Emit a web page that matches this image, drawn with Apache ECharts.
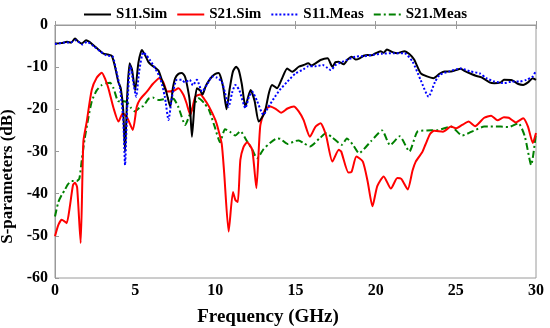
<!DOCTYPE html>
<html><head><meta charset="utf-8">
<script src="https://cdn.jsdelivr.net/npm/echarts/dist/echarts.min.js"></script>
<style>html,body{margin:0;padding:0;background:#fff}#c{width:550px;height:328px}</style>
</head><body><div id="c"></div><script>
const seriesNames = ['S11.Sim', 'S21.Sim', 'S11.Meas', 'S21.Meas'];
const xTicks = [0, 5, 10, 15, 20, 25, 30];
const yTicks = [-60, -50, -40, -30, -20, -10, 0];

const s11SimFreq = [0,0.4,0.75,1.0,1.25,1.45,1.67,1.94,2.15,2.4,2.7,3.02,3.3,3.54,3.75,3.95,4.1,4.25,4.37,4.5,4.65,4.8,5.0,5.2,5.42,5.6,5.83,6.05,6.25,6.45,6.7,6.95,7.19,7.35,7.5,7.7,7.92,8.1,8.25,8.4,8.54,8.7,8.85,9.05,9.2,9.4,9.6,9.8,10.0,10.2,10.35,10.5,10.7,10.9,11.1,11.3,11.46,11.65,11.875,12.05,12.2,12.45,12.7,12.9,13.1,13.35,13.54,13.85,14.17,14.48,14.8,15.2,15.5,15.8,16.0,16.25,16.56,17.0,17.3,17.5,17.7,18.0,18.25,18.5,18.75,19.0,19.25,19.5,19.75,20.0,20.3,20.5,20.7,21.1,21.35,21.8,22.1,22.4,22.8,23.2,23.6,24.0,24.3,24.7,25.0,25.3,25.6,25.9,26.3,26.6,27.1,27.4,27.8,28.0,28.5,28.9,29.2,29.5,29.8,30];
const s11SimDb = [-4.4,-4.3,-4.0,-4.2,-3.2,-3.9,-4.4,-3.6,-4.0,-4.8,-5.8,-6.8,-7.0,-7.3,-10,-13.5,-15,-20,-30,-17,-9.1,-10.5,-15.5,-9,-5.9,-7,-8.8,-9.6,-10.1,-10.8,-13.4,-16,-19.4,-15,-12.6,-11.6,-11.4,-12.2,-14.5,-18,-26.5,-19,-15,-15.5,-16.5,-14.5,-13.2,-12.2,-11.6,-11.4,-12.5,-15,-20,-15,-11,-9.9,-10.7,-14,-19.4,-17,-15.4,-18,-22.9,-22,-20.5,-16,-14.2,-15,-12.6,-10.3,-11.1,-9.9,-9.5,-9.1,-9.6,-9.1,-8.3,-7.9,-9.9,-8.8,-8.7,-9.3,-8.2,-7.5,-8.2,-7.9,-7.3,-7.1,-7.2,-6.7,-6.2,-6.6,-5.8,-6.5,-6.7,-6.2,-6.9,-8.2,-11.4,-12.2,-12.6,-11.5,-11,-11,-10.7,-10.4,-11,-11.5,-12.1,-12.4,-13.6,-13.8,-13.6,-13,-13.1,-14,-14.2,-13.6,-12.6,-13];

const s21SimFreq = [0,0.21,0.42,0.6,0.73,0.94,1.12,1.25,1.38,1.6,1.77,1.98,2.29,2.6,2.92,3.15,3.33,3.65,3.96,4.23,4.52,4.85,5.1,5.31,5.73,6.1,6.5,6.75,7.0,7.4,7.7,8.0,8.2,8.44,8.75,9.06,9.3,9.6,10.0,10.2,10.4,10.55,10.83,11.1,11.25,11.4,11.56,11.75,11.98,12.3,12.56,12.8,13.1,13.44,13.8,14.1,14.5,14.9,15.2,15.5,15.9,16.25,16.56,16.9,17.3,17.7,17.85,18.3,18.5,18.8,19.2,19.5,19.8,20.1,20.5,20.95,21.35,21.6,22.0,22.3,22.5,22.9,23.1,23.4,23.65,24.2,24.7,25.0,25.4,25.8,26.2,26.77,27.2,27.6,28.0,28.3,28.75,29.2,29.5,29.8,30];
const s21SimDb = [-50.1,-47.4,-46.2,-46.6,-47,-42.7,-38,-37.4,-38.5,-51.7,-27.6,-22.9,-15.4,-12.5,-11.3,-13,-15,-19.7,-22.9,-20.9,-22.1,-24.9,-19.4,-17.6,-15.8,-14,-12.6,-13.5,-15.8,-15.6,-15,-16.5,-18.5,-21.3,-17,-16.5,-17.5,-19.3,-22.5,-25,-28.2,-35,-49,-39.6,-41.5,-42,-32,-29,-27.8,-29.6,-38.7,-24,-20.1,-19.3,-20,-20.8,-19.8,-19.3,-20.5,-22.5,-26.5,-24.1,-23.3,-26.1,-32.4,-29.6,-30,-35,-34.8,-31.2,-32.4,-37.1,-43,-38.2,-35.9,-38.8,-36.3,-36.5,-39,-34.5,-32.4,-30.2,-28.4,-25.8,-25.1,-25.3,-24.1,-24.5,-23.7,-22.9,-24,-22,-21.5,-22.6,-21.9,-22,-23.1,-22.1,-24.1,-28,-25.6];

const s11MeasFreq = [0,0.5,1.0,1.3,1.7,2.0,2.4,2.8,3.2,3.6,3.8,4.05,4.25,4.37,4.5,4.7,4.9,5.06,5.25,5.5,5.7,5.9,6.25,6.56,6.85,7.08,7.3,7.6,7.9,8.1,8.4,8.6,8.85,9.17,9.5,9.8,10.1,10.4,10.6,10.83,11.05,11.25,11.5,11.875,12.1,12.3,12.6,13.0,13.3,13.65,14.0,14.5,15.0,15.5,15.8,16.2,16.7,17.0,17.2,17.5,17.7,18.2,18.75,19.3,19.8,20.4,21.1,21.8,22.3,22.8,23.3,23.7,24.0,24.6,25.3,25.9,26.5,26.9,27.4,28.0,28.5,29.0,29.4,29.8,30];
const s11MeasDb = [-4.5,-4.2,-4.1,-3.6,-4.6,-4.0,-5.0,-6.2,-7.2,-7.5,-10.5,-15,-22,-33.2,-20,-9.6,-14,-17,-11,-6.5,-7.2,-8.2,-10.3,-12.6,-17,-22.5,-17,-13,-13,-13.6,-13,-14.3,-13,-15.8,-14,-12.2,-12.5,-13.4,-16,-19.4,-16,-14.2,-15.5,-19.7,-17,-15.8,-18,-21.3,-19.5,-17.4,-15.5,-13.4,-11.5,-10.5,-9.8,-9.8,-9.5,-10.2,-10.7,-9.5,-9.1,-8.3,-7.5,-7.4,-7.1,-6.8,-6.7,-6.7,-8.7,-13,-17,-13.5,-11.8,-11,-10.3,-11,-11.5,-12.6,-13.4,-13.8,-13.4,-13.4,-13,-12.2,-10.8];

const s21MeasFreq = [0,0.21,0.42,0.6,0.8,1.04,1.35,1.52,1.67,1.85,2.08,2.3,2.6,2.9,3.2,3.44,3.65,3.96,4.27,4.48,4.75,5.0,5.3,5.52,5.83,6.1,6.46,6.77,7.08,7.4,7.7,8.125,8.44,8.96,9.3,9.6,9.95,10.3,10.6,10.9,11.25,11.56,11.98,12.3,12.6,13.0,13.4,13.85,14.06,14.5,15.0,15.2,15.5,15.9,16.5,16.9,17.3,17.9,18.2,18.6,18.96,19.7,20.4,20.9,21.5,22.1,22.6,23.2,23.9,24.7,25.4,26.1,26.77,27.8,28.3,28.9,29.3,29.7,30];
const s21MeasDb = [-45.4,-42,-40.3,-39.2,-37.8,-37,-37,-36.4,-32,-27,-22,-18,-15.5,-14.3,-13.8,-13.7,-15,-18.1,-18.1,-18.3,-19.7,-20.5,-19.5,-19.2,-17.5,-17.2,-17.8,-17.6,-17.4,-17.5,-19.5,-23.7,-20.9,-17.4,-18.5,-20.1,-24,-27.8,-24.7,-25.3,-26.2,-25.2,-27.6,-29.5,-31.6,-29.5,-28,-26.9,-27,-28.2,-27.5,-27.4,-28,-28.8,-26.9,-25.7,-26.7,-28.4,-26.9,-28.5,-30.4,-27.6,-25,-28.5,-26.4,-30,-25.3,-25,-24.9,-24.1,-26.2,-25.1,-24.1,-24.1,-24.2,-23.3,-26.4,-33.2,-25.6];

const zip = (xs, ys) => xs.map((x, i) => [x, ys[i]]);
const FONT = '"Liberation Serif", "Times New Roman", serif';
const axisGray = '#9a9a9a';

const chart = echarts.init(document.getElementById('c'), null, {renderer: 'canvas'});
chart.setOption({
  animation: false,
  backgroundColor: '#fff',
  legend: {
    top: 2, left: 'center', itemWidth: 27, itemHeight: 12, itemGap: 9,
    itemStyle: {opacity: 0},
    textStyle: {fontFamily: FONT, fontWeight: 'bold', fontSize: 15, color: '#000'},
    data: seriesNames
  },
  grid: {left: 55, right: 14, top: 25, bottom: 50, containLabel: false, outerBoundsMode: 'none', show: true, borderColor: axisGray, borderWidth: 1},
  xAxis: [{
    type: 'value', min: xTicks[0], max: xTicks[xTicks.length - 1], interval: 5,
    name: 'Frequency (GHz)', nameLocation: 'middle', nameGap: 30,
    nameTextStyle: {fontFamily: FONT, fontWeight: 'bold', fontSize: 19, color: '#000', padding: [0, 55, 0, 0]},
    axisLine: {lineStyle: {color: axisGray}},
    axisTick: {inside: true, length: 4, lineStyle: {color: axisGray}},
    axisLabel: {fontFamily: FONT, fontWeight: 'bold', fontSize: 16, color: '#000', margin: 5},
    splitLine: {show: false}
  }, {
    type: 'value', position: 'top', min: 0, max: 30, interval: 5,
    axisLine: {show: true, lineStyle: {color: axisGray}},
    axisTick: {inside: true, length: 4, lineStyle: {color: axisGray}},
    axisLabel: {show: false}, splitLine: {show: false}
  }],
  yAxis: {
    type: 'value', min: yTicks[0], max: yTicks[yTicks.length - 1], interval: 10,
    name: 'S-parameters (dB)', nameLocation: 'middle', nameGap: 27,
    nameTextStyle: {fontFamily: FONT, fontWeight: 'bold', fontSize: 17, color: '#000', padding: [0, 50, 0, 0]},
    axisLine: {show: true, lineStyle: {color: axisGray}},
    axisTick: {show: true, inside: true, length: 4, lineStyle: {color: axisGray}},
    axisLabel: {fontFamily: FONT, fontWeight: 'bold', fontSize: 16, color: '#000', margin: 7},
    splitLine: {show: false}
  },
  series: [
    {name: seriesNames[0], type: 'line', data: zip(s11SimFreq, s11SimDb), symbol: 'none', smooth: 0.2, lineStyle: {color: '#000', width: 2}, itemStyle: {color: '#000'}, z: 4},
    {name: seriesNames[1], type: 'line', data: zip(s21SimFreq, s21SimDb), symbol: 'none', smooth: 0.2, lineStyle: {color: '#ff0000', width: 2}, itemStyle: {color: '#ff0000'}, z: 3},
    {name: seriesNames[2], type: 'line', data: zip(s11MeasFreq, s11MeasDb), symbol: 'none', smooth: 0.2, lineStyle: {color: '#0000ff', width: 2, type: [2, 2]}, itemStyle: {color: '#0000ff'}, z: 5},
    {name: seriesNames[3], type: 'line', data: zip(s21MeasFreq, s21MeasDb), symbol: 'none', smooth: 0.2, lineStyle: {color: '#008000', width: 2, type: [7, 3, 2, 3]}, itemStyle: {color: '#008000'}, z: 2}
  ]
});
</script></body></html>
